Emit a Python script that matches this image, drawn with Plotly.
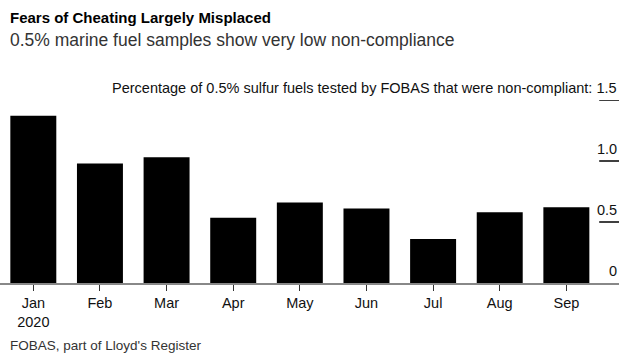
import plotly.graph_objects as go

months = ["Jan<br>2020", "Feb", "Mar", "Apr", "May", "Jun", "Jul", "Aug", "Sep"]
values = [1.37, 0.98, 1.03, 0.535, 0.66, 0.61, 0.36, 0.58, 0.62]
y_ticks = [0, 0.5, 1.0, 1.5]
y_tick_labels = ["0", "0.5", "1.0", "1.5"]
axis_title = "Percentage of 0.5% sulfur fuels tested by FOBAS that were non-compliant: "

FONT = "Liberation Sans"

fig = go.Figure()
fig.add_trace(go.Bar(
    x=list(range(len(months))), y=values,
    marker=dict(color="#000000", line=dict(width=0)),
    width=0.69, hoverinfo="skip",
))

for v, lab in zip(y_ticks, y_tick_labels):
    if v > 0:
        fig.add_shape(type="line", xref="paper", yref="y", x0=0.968, x1=1.0, y0=v, y1=v,
                      line=dict(color="#000000", width=1.5))
    text = lab
    if v == max(y_ticks):
        text = axis_title + lab
    fig.add_annotation(xref="paper", yref="y", x=1.0, y=v, text=text, showarrow=False,
                       xanchor="right", yanchor="bottom", yshift=2,
                       font=dict(family=FONT, size=14.5, color="#111111"))

fig.add_annotation(xref="paper", yref="paper", x=0, y=1, xshift=8, yshift=83,
                   text="<b>Fears of Cheating Largely Misplaced</b>", showarrow=False,
                   xanchor="left", yanchor="middle",
                   font=dict(family=FONT, size=15, color="#000000"))
fig.add_annotation(xref="paper", yref="paper", x=0, y=1, xshift=8, yshift=60,
                   text="0.5% marine fuel samples show very low non-compliance", showarrow=False,
                   xanchor="left", yanchor="middle",
                   font=dict(family=FONT, size=17.5, color="#333333"))
fig.add_annotation(xref="paper", yref="paper", x=0, y=0, xshift=8, yshift=-62,
                   text="FOBAS, part of Lloyd's Register", showarrow=False,
                   xanchor="left", yanchor="middle",
                   font=dict(family=FONT, size=13.5, color="#333333"))

fig.update_layout(
    width=631, height=360,
    margin=dict(l=0, r=12, t=100, b=77, autoexpand=False),
    paper_bgcolor="white", plot_bgcolor="white",
    showlegend=False,
    font=dict(family=FONT, color="#111111"),
    xaxis=dict(
        range=[-0.5, 8.79],
        tickmode="array", tickvals=list(range(len(months))), ticktext=months,
        ticks="outside", ticklen=6, tickcolor="#333333", tickwidth=1,
        showline=True, linecolor="#888888", linewidth=2,
        showgrid=False, zeroline=False,
        tickfont=dict(family=FONT, size=14.5, color="#111111"),
        fixedrange=True,
    ),
    yaxis=dict(range=[0, 1.5], showticklabels=False, showgrid=False, zeroline=False,
               showline=False, fixedrange=True),
)

fig.write_html("out.html", config={"displayModeBar": False},
               post_script="document.body.style.margin='0';")
